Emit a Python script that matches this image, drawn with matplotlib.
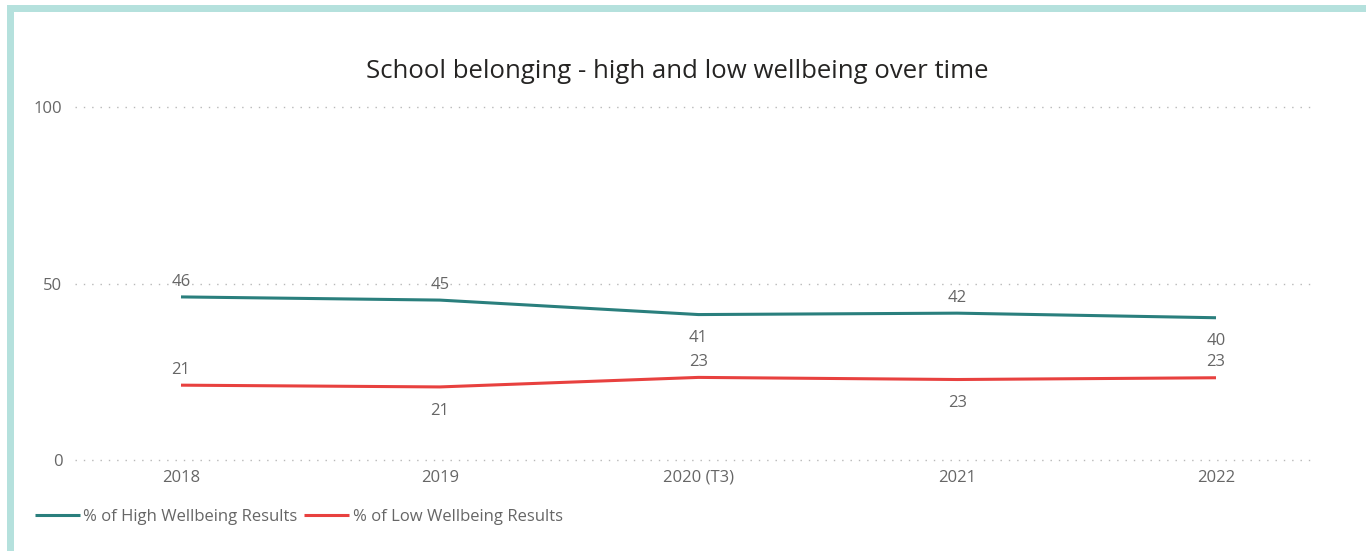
import matplotlib
matplotlib.use("Agg")
import matplotlib.pyplot as plt
from matplotlib.patches import Rectangle

categories = ["2018", "2019", "2020 (T3)", "2021", "2022"]
high_values = [46.2, 45.3, 41.2, 41.6, 40.3]
low_values = [21.2, 20.7, 23.4, 22.8, 23.3]
high_labels = ["46", "45", "41", "42", "40"]
low_labels = ["21", "21", "23", "23", "23"]
high_label_pos = ["above", "above", "below", "above", "below"]
low_label_pos = ["above", "below", "above", "below", "above"]
y_ticks = [0, 50, 100]

TEAL = "#2a7f7d"
RED = "#e8413f"
GREY = "#666666"
FONT = ["Open Sans", "DejaVu Sans"]
plt.rcParams["font.family"] = FONT

W, H = 1366, 551
fig = plt.figure(figsize=(W / 100, H / 100), dpi=100)
fig.patch.set_facecolor("white")

# border (top and left bands)
fig.patches.append(Rectangle((7 / W, 1 - 12 / H), 1 - 7 / W, 7 / H, transform=fig.transFigure,
                             facecolor="#b5e1dd", edgecolor="none", zorder=0))
fig.patches.append(Rectangle((7 / W, 0), 7 / W, 1 - 5 / H, transform=fig.transFigure,
                             facecolor="#b5e1dd", edgecolor="none", zorder=0))

left, right = 75 / W, 1315 / W
bottom, top = 1 - 460 / H, 1 - 107 / H
ax = fig.add_axes([left, bottom, right - left, top - bottom])
x = list(range(len(categories)))
step = (1216 - 181) / 4
ax.set_xlim(-(181 - 75) / step, 4 + (1315 - 1216) / step)
ax.set_ylim(0, 100)

for s in ax.spines.values():
    s.set_visible(False)
ax.set_yticks(y_ticks)
ax.set_xticks(x)
ax.set_xticklabels(categories)
ax.tick_params(axis="both", length=0, colors=GREY, labelsize=12)
ax.tick_params(axis="y", pad=9)
ax.tick_params(axis="x", pad=7)
ax.yaxis.grid(True, color="#b8b8b8", linestyle=(0, (1, 5)), linewidth=1)
for gl in ax.get_ygridlines():
    gl.set_clip_on(False)
ax.set_axisbelow(True)

ax.plot(x, high_values, color=TEAL, linewidth=2.2, label="% of High Wellbeing Results",
        solid_capstyle="butt", clip_on=False)
ax.plot(x, low_values, color=RED, linewidth=2.2, label="% of Low Wellbeing Results",
        solid_capstyle="butt", clip_on=False)

for xi, v, lab, pos in zip(x, high_values, high_labels, high_label_pos):
    off = 11 if pos == "above" else -17
    ax.annotate(lab, (xi, v), xytext=(0, off), textcoords="offset points",
                ha="center", va="center", color=GREY, fontsize=12)
for xi, v, lab, pos in zip(x, low_values, low_labels, low_label_pos):
    off = 11 if pos == "above" else -17
    ax.annotate(lab, (xi, v), xytext=(0, off), textcoords="offset points",
                ha="center", va="center", color=GREY, fontsize=12)

fig.text(677 / W, 1 - 72 / H, "School belonging - high and low wellbeing over time",
         ha="center", va="center", fontsize=18.5, color="#252423")

leg = fig.legend(loc="center left", bbox_to_anchor=(35 / W, 1 - 517 / H), ncol=2, frameon=False,
                 fontsize=12, handlelength=2.7, handletextpad=0.2, columnspacing=0.4,
                 borderpad=0, borderaxespad=0)
for t in leg.get_texts():
    t.set_color(GREY)

fig.savefig("out.png", dpi=100)
